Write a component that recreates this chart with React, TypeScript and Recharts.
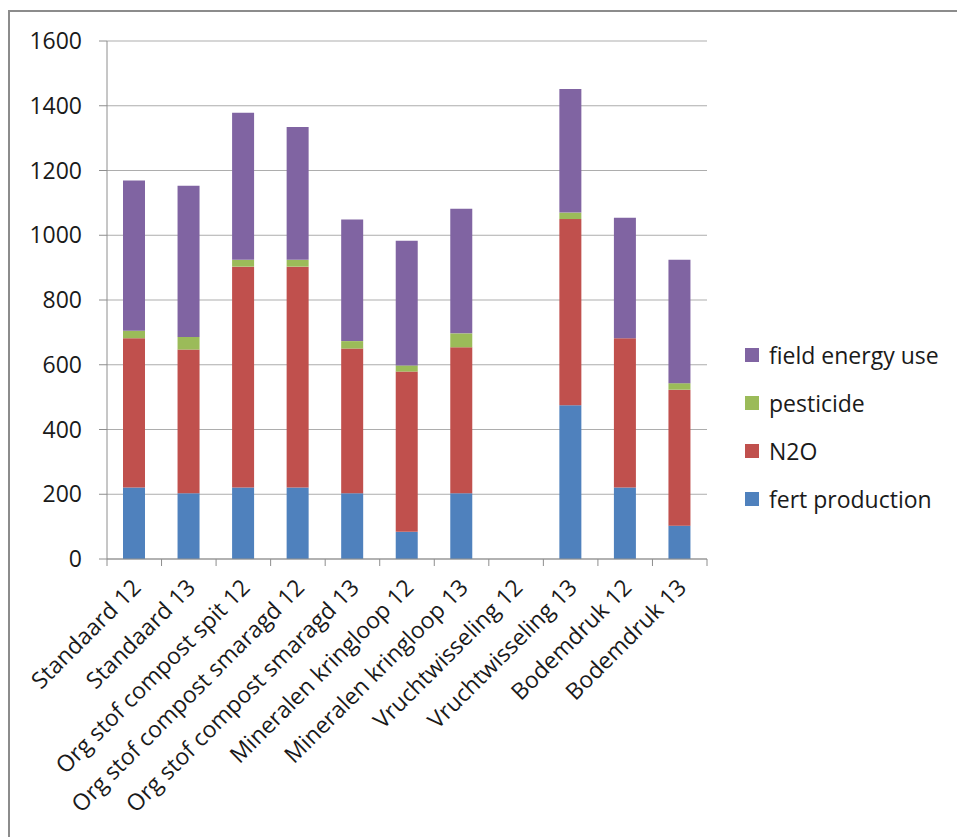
import { BarChart, Bar, XAxis, YAxis, CartesianGrid } from "recharts";

// emission breakdown per treatment
const categories = [
  "Standaard 12",
  "Standaard 13",
  "Org stof compost spit 12",
  "Org stof compost smaragd 12",
  "Org stof compost smaragd 13",
  "Mineralen kringloop 12",
  "Mineralen kringloop 13",
  "Vruchtwisseling 12",
  "Vruchtwisseling 13",
  "Bodemdruk 12",
  "Bodemdruk 13",
];
const fertProduction = [221, 203, 221, 221, 203, 84, 203, 0, 475, 221, 103];
const n2o = [461, 444, 682, 682, 447, 495, 451, 0, 575, 461, 420];
const pesticide = [23, 39, 21, 21, 23, 19, 43, 0, 20, 0, 20];
const fieldEnergyUse = [464, 467, 454, 410, 376, 385, 385, 0, 382, 372, 381];
const yTicks = [0, 200, 400, 600, 800, 1000, 1200, 1400, 1600];

const series = [
  { key: "fert production", values: fertProduction, color: "#4F81BD" },
  { key: "N2O", values: n2o, color: "#C0504D" },
  { key: "pesticide", values: pesticide, color: "#9BBB59" },
  { key: "field energy use", values: fieldEnergyUse, color: "#8064A2" },
];

const data = categories.map((name, i) => {
  const row: Record<string, string | number> = { name };
  series.forEach((s) => (row[s.key] = s.values[i]));
  return row;
});

const W = 957;
const H = 837;
const MARGIN = { top: 41, right: 250, bottom: 8, left: 0 };
const Y_AXIS_W = 107;
const X_AXIS_H = 270;
const PLOT_W = W - MARGIN.left - MARGIN.right - Y_AXIS_W;
const BAND = PLOT_W / categories.length;
const AXIS = "#8e8e8e";
const GRID = "#adadad";
const TEXT = "#1a1a1a";
const FONT = "'Open Sans', sans-serif";
const FS = 23;

function CategoryTick({ x, y, payload, index }: any) {
  const half = BAND / 2;
  const tx = x + 8;
  const ty = y + 30;
  return (
    <g>
      <line x1={x - half} y1={y} x2={x - half} y2={y + 7} stroke={AXIS} />
      {index === categories.length - 1 && (
        <line x1={x + half} y1={y} x2={x + half} y2={y + 7} stroke={AXIS} />
      )}
      <text
        x={tx}
        y={ty}
        textAnchor="end"
        fill={TEXT}
        fontSize={FS}
        fontFamily={FONT}
        transform={`rotate(-45, ${tx}, ${ty})`}
      >
        {payload.value}
      </text>
    </g>
  );
}

export default function App() {
  return (
    <div
      style={{
        position: "fixed",
        left: 0,
        top: 0,
        width: W,
        height: H,
        overflow: "hidden",
        background: "#fff",
        fontFamily: FONT,
      }}
    >
      <div
        style={{
          position: "absolute",
          left: 8,
          top: 10,
          width: W,
          height: H,
          borderTop: "2px solid #8c8c8c",
          borderLeft: "2px solid #8c8c8c",
        }}
      />
      <div style={{ position: "absolute", left: 0, top: 0 }}>
        <BarChart width={W} height={H} data={data} margin={MARGIN}>
          <CartesianGrid vertical={false} stroke={GRID} />
          <XAxis
            dataKey="name"
            height={X_AXIS_H}
            interval={0}
            tickLine={false}
            tickSize={0}
            tickMargin={0}
            stroke={AXIS}
            tick={<CategoryTick />}
          />
          <YAxis
            width={Y_AXIS_W}
            domain={[0, 1600]}
            ticks={yTicks}
            interval={0}
            stroke={AXIS}
            tickSize={8}
            tickMargin={17}
            tick={{ fill: TEXT, fontSize: FS, fontFamily: FONT }}
          />
          {series.map((s) => (
            <Bar
              key={s.key}
              dataKey={s.key}
              stackId="total"
              fill={s.color}
              barSize={22}
              isAnimationActive={false}
            />
          ))}
        </BarChart>
      </div>
      <div style={{ position: "absolute", left: 745, top: 331 }}>
        {[...series].reverse().map((s) => (
          <div
            key={s.key}
            style={{
              display: "flex",
              alignItems: "center",
              height: 48,
              fontSize: FS,
              color: TEXT,
              whiteSpace: "nowrap",
            }}
          >
            <span
              style={{
                display: "inline-block",
                width: 14,
                height: 14,
                background: s.color,
                marginRight: 10,
              }}
            />
            {s.key}
          </div>
        ))}
      </div>
    </div>
  );
}
